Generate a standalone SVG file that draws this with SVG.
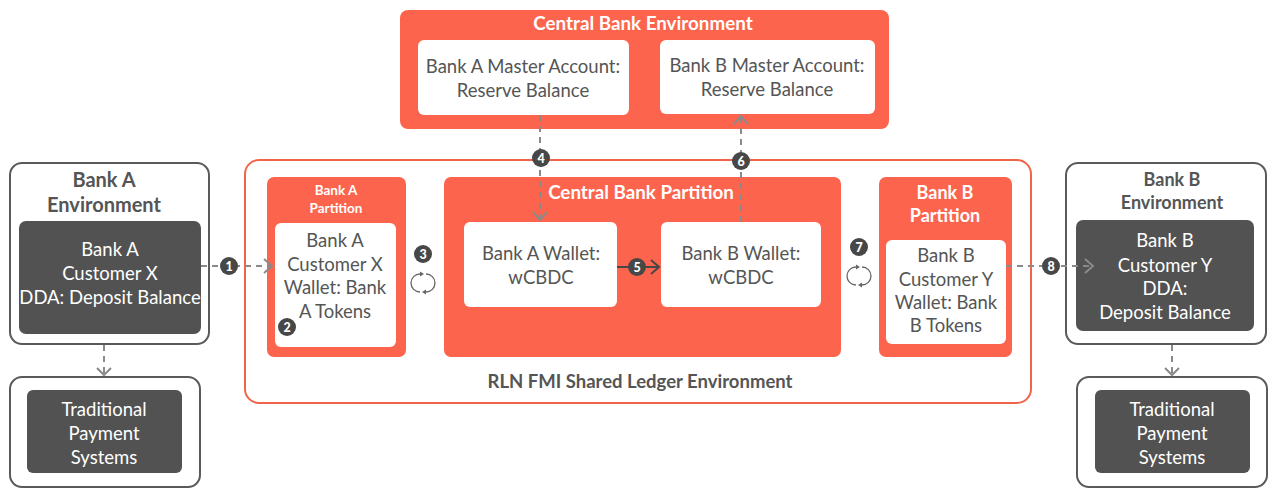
<svg xmlns="http://www.w3.org/2000/svg" width="1280" height="493" viewBox="0 0 1280 493">
<style>
.env{fill:#fff;stroke:#5a5a5a;stroke-width:2}
.dark{fill:#525252}
.org{fill:#fd644d}
.wht{fill:#fff}
.t{font-family:Lato,"Open Sans",sans-serif;text-anchor:middle}
.tg{fill:#555}
.tw{fill:#fff}
.b{font-weight:bold}
.dash{fill:none;stroke:#8a8a8a;stroke-width:2;stroke-dasharray:6 5}
.head{fill:none;stroke:#8a8a8a;stroke-width:2}
.bad{fill:#474747}
.bt{font-family:Lato,"Open Sans",sans-serif;font-size:12.5px;font-weight:900;fill:#fff;text-anchor:middle}
.cyc{fill:none;stroke:#666;stroke-width:1.3}
</style>
<rect width="1280" height="493" fill="#fff"/>

<g id="rln">
<rect x="245" y="160" width="786" height="243" rx="14" fill="none" stroke="#f26449" stroke-width="2"/>
<text class="t tg b" x="640" y="388" font-size="18.5">RLN FMI Shared Ledger Environment</text>
</g>

<g id="bankA-env">
<rect class="env" x="10" y="163" width="199" height="181" rx="12"/>
<text class="t tg b" x="104" y="187" font-size="20">Bank A</text>
<text class="t tg b" x="104" y="212" font-size="20">Environment</text>
<rect class="dark" x="19" y="221" width="182" height="113" rx="7"/>
<text class="t tw" x="110" y="256" font-size="18.5">Bank A</text>
<text class="t tw" x="110" y="280" font-size="18.5">Customer X</text>
<text class="t tw" x="110" y="304" font-size="18.5">DDA: Deposit Balance</text>
</g>

<g id="trad-left">
<rect class="env" x="10" y="377" width="190" height="110" rx="12"/>
<rect class="dark" x="27" y="390" width="155" height="83" rx="6"/>
<text class="t tw" x="104" y="416" font-size="18.5">Traditional</text>
<text class="t tw" x="104" y="440" font-size="18.5">Payment</text>
<text class="t tw" x="104" y="464" font-size="18.5">Systems</text>
</g>

<g id="central-env">
<rect class="org" x="400" y="10" width="489" height="119" rx="8"/>
<text class="t tw b" x="643" y="30" font-size="18.8">Central Bank Environment</text>
<rect class="wht" x="418" y="40" width="211" height="75" rx="6"/>
<text class="t tg" x="523" y="73" font-size="18.5">Bank A Master Account:</text>
<text class="t tg" x="523" y="97" font-size="18.5">Reserve Balance</text>
<rect class="wht" x="660" y="40" width="215" height="74" rx="6"/>
<text class="t tg" x="767" y="72" font-size="18.5">Bank B Master Account:</text>
<text class="t tg" x="767" y="96" font-size="18.5">Reserve Balance</text>
</g>

<g id="bankA-part">
<rect class="org" x="267" y="177" width="139" height="180" rx="7"/>
<text class="t tw b" x="336" y="195" font-size="13.5">Bank A</text>
<text class="t tw b" x="336" y="213" font-size="13.5">Partition</text>
<rect class="wht" x="275" y="223" width="121" height="124" rx="6"/>
<text class="t tg" x="335" y="247" font-size="18.5">Bank A</text>
<text class="t tg" x="335" y="271" font-size="18.5">Customer X</text>
<text class="t tg" x="335" y="294" font-size="18.5">Wallet: Bank</text>
<text class="t tg" x="335" y="318" font-size="18.5">A Tokens</text>
</g>

<g id="central-part">
<rect class="org" x="444" y="177" width="397" height="180" rx="7"/>
<text class="t tw b" x="641" y="199" font-size="18.8">Central Bank Partition</text>
<rect class="wht" x="464" y="222" width="153" height="85" rx="6"/>
<text class="t tg" x="541" y="260" font-size="18.5">Bank A Wallet:</text>
<text class="t tg" x="541" y="284" font-size="18.5">wCBDC</text>
<rect class="wht" x="661" y="222" width="160" height="85" rx="6"/>
<text class="t tg" x="741" y="260" font-size="18.5">Bank B Wallet:</text>
<text class="t tg" x="741" y="284" font-size="18.5">wCBDC</text>
</g>

<g id="bankB-part">
<rect class="org" x="879" y="177" width="133" height="180" rx="7"/>
<text class="t tw b" x="945" y="199" font-size="18">Bank B</text>
<text class="t tw b" x="945" y="222" font-size="18">Partition</text>
<rect class="wht" x="886" y="240" width="120" height="104" rx="6"/>
<text class="t tg" x="946" y="262" font-size="18.5">Bank B</text>
<text class="t tg" x="946" y="286" font-size="18.5">Customer Y</text>
<text class="t tg" x="946" y="309" font-size="18.5">Wallet: Bank</text>
<text class="t tg" x="946" y="332" font-size="18.5">B Tokens</text>
</g>

<g id="bankB-env">
<rect class="env" x="1066" y="163" width="200" height="181" rx="12"/>
<text class="t tg b" x="1172" y="186" font-size="18">Bank B</text>
<text class="t tg b" x="1172" y="209" font-size="18">Environment</text>
<rect class="dark" x="1076" y="220" width="178" height="111" rx="7"/>
<text class="t tw" x="1165" y="247" font-size="18.5">Bank B</text>
<text class="t tw" x="1165" y="272" font-size="18.5">Customer Y</text>
<text class="t tw" x="1165" y="295" font-size="18.5">DDA:</text>
<text class="t tw" x="1165" y="319" font-size="18.5">Deposit Balance</text>
</g>

<g id="trad-right">
<rect class="env" x="1077" y="377" width="190" height="110" rx="12"/>
<rect class="dark" x="1095" y="390" width="155" height="83" rx="6"/>
<text class="t tw" x="1172" y="416" font-size="18.5">Traditional</text>
<text class="t tw" x="1172" y="440" font-size="18.5">Payment</text>
<text class="t tw" x="1172" y="464" font-size="18.5">Systems</text>
</g>

<g id="connectors">
<path class="dash" d="M201 266H272"/>
<path class="head" d="M264 259L272 266L264 273"/>
<circle class="bad" cx="229" cy="266" r="9"/><text class="bt" x="229" y="270.5">1</text>
<path class="dash" d="M104 345V376"/>
<path class="head" d="M97 368L104 375L111 368"/>
<path class="dash" d="M540 115V220"/>
<path class="head" d="M533 212L540 220L547 212"/>
<circle class="bad" cx="541" cy="158" r="9"/><text class="bt" x="541" y="162.5">4</text>
<path class="dash" d="M741 222V116"/>
<path class="head" d="M734 124L741 116L748 124"/>
<circle class="bad" cx="741" cy="161" r="9"/><text class="bt" x="741" y="165.5">6</text>
<path d="M617 267H658" fill="none" stroke="#474747" stroke-width="2"/>
<path d="M651 260L659 267L651 274" fill="none" stroke="#474747" stroke-width="2"/>
<circle class="bad" cx="637" cy="267" r="9"/><text class="bt" x="637" y="271.5">5</text>
<path class="dash" d="M1006 266H1093"/>
<path class="head" d="M1085 259L1093 266L1085 273"/>
<circle class="bad" cx="1051" cy="266" r="9"/><text class="bt" x="1051" y="270.5">8</text>
<path class="dash" d="M1172 345V376"/>
<path class="head" d="M1165 368L1172 375L1179 368"/>
<circle class="bad" cx="287" cy="327" r="9"/><text class="bt" x="287" y="331.5">2</text>
<circle class="bad" cx="423" cy="254" r="9"/><text class="bt" x="423" y="258.5">3</text>
<circle class="bad" cx="859" cy="247" r="9"/><text class="bt" x="859" y="251.5">7</text>
<g transform="translate(423 283)">
<path class="cyc" d="M-3 -9A9 9 0 0 0 -3 9"/><path class="cyc" d="M3 9A9 9 0 0 0 3 -9"/>
<path d="M1 -9L-3 -11.5L-3 -6.5Z" fill="#666"/><path d="M-1 9L3 11.5L3 6.5Z" fill="#666"/>
</g>
<g transform="translate(859 276)">
<path class="cyc" d="M-3 -9A9 9 0 0 0 -3 9"/><path class="cyc" d="M3 9A9 9 0 0 0 3 -9"/>
<path d="M1 -9L-3 -11.5L-3 -6.5Z" fill="#666"/><path d="M-1 9L3 11.5L3 6.5Z" fill="#666"/>
</g>
</g>
</svg>
